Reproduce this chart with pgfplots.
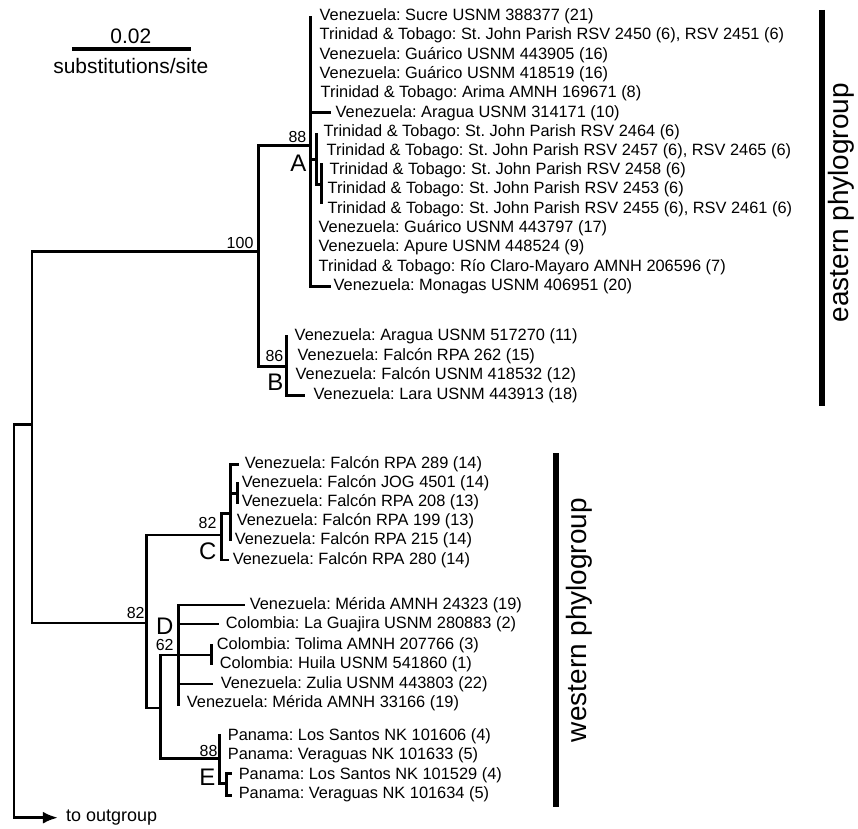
\documentclass[border=0pt]{standalone}
\usepackage{fontspec}
\setmainfont{Liberation Sans}
\usepackage{pgfplots}
\pgfplotsset{compat=1.18}
\usetikzlibrary{arrows.meta}
\frenchspacing
\newcommand\lffont{\fontsize{16.4}{19}\selectfont}
\newcommand\spfont{\fontsize{16}{19}\selectfont}
\newcommand\clfont{\fontsize{24}{28}\selectfont}
\newcommand\leaf[3]{\node[anchor=west,inner sep=0pt,font=\lffont] at (axis cs:#1,#2) {#3};}
\newcommand\supp[3]{\node[anchor=east,inner sep=0pt,font=\spfont] at (axis cs:#1,#2) {#3};}
\newcommand\clade[3]{\node[anchor=east,inner sep=0pt,font=\clfont] at (axis cs:#1,#2) {#3};}
\pgfplotsset{br/.style={black,line width=2.7pt,line join=miter,line cap=rect,mark=none}}
\begin{document}
\begin{tikzpicture}
\begin{axis}[width=858pt,height=830pt,scale only axis,
  xmin=0,xmax=858,ymin=0,ymax=830,y dir=reverse,hide axis,clip=false,
  cycle list={{black,mark=none}}]
\path (rel axis cs:0,0) rectangle (rel axis cs:1,1);
% scale bar
\addplot[br,line width=3.2pt,line cap=butt] coordinates {(72,49)(191,49)};
% root and outgroup
\addplot[br,line width=2.8pt,line cap=butt,-{Latex[length=15pt,width=12pt]}] coordinates {(14,425)(14,819)(58,819)};
\addplot[br] coordinates {(14,425)(32,425)};
\addplot[br] coordinates {(259,252)(32,252)(32,624)(147,624)};
% eastern
\addplot[br] coordinates {(311,146)(259,146)(259,367)(287,367)};
\addplot[br] coordinates {(311,17)(311,287)(330,287)};
\addplot[br] coordinates {(311,113)(330,113)};
\addplot[br] coordinates {(311,160)(317,160)};
\addplot[br] coordinates {(317,135)(317,185)(322,185)};
\addplot[br] coordinates {(322,165)(322,203)};
\addplot[br] coordinates {(287,337)(287,396)(304,396)};
% western
\addplot[br] coordinates {(222,536)(147,536)(147,709)(161,709)};
\addplot[br] coordinates {(228,561)(222,561)(222,514)(231,514)};
\addplot[br] coordinates {(238,465)(231,465)(231,541)};
\addplot[br] coordinates {(231,494)(238,494)};
\addplot[br] coordinates {(238,484)(238,503)};
\addplot[br] coordinates {(212,656)(161,656)(161,760)(220,760)};
\addplot[br] coordinates {(179,606)(179,706)};
\addplot[br] coordinates {(179,606)(244,606)};
\addplot[br] coordinates {(179,625)(218,625)};
\addplot[br] coordinates {(212,646)(212,665)};
\addplot[br] coordinates {(179,685)(212,685)};
\addplot[br] coordinates {(220,737)(220,785)(227,785)};
\addplot[br] coordinates {(231,775)(227,775)(227,797)(231,797)};
% phylogroup bars
\addplot[br,line width=6pt,line cap=butt] coordinates {(823,10)(823,407)};
\addplot[br,line width=6pt,line cap=butt] coordinates {(557,454)(557,808)};
% texts
\node[font=\fontsize{21}{24}\selectfont] at (axis cs:131,36) {0.02};
\node[font=\fontsize{21}{24}\selectfont] at (axis cs:131,66) {substitutions/site};
\node[anchor=west,inner sep=0pt,font=\fontsize{18}{20}\selectfont] at (axis cs:66,819) {to outgroup};
\node[rotate=90,font=\fontsize{28}{32}\selectfont] at (axis cs:843,203) {eastern phylogroup};
\node[rotate=90,font=\fontsize{28}{32}\selectfont] at (axis cs:580,621) {western phylogroup};
\supp{307}{137}{88}\clade{307}{164}{A}
\supp{254}{243}{100}
\supp{284}{357}{86}\clade{284}{383}{B}
\supp{217}{524}{82}\clade{217}{552}{C}
\supp{145}{614}{82}
\clade{174}{627}{D}\supp{174}{646}{62}
\supp{218}{752}{88}\clade{216}{778}{E}
% leaves A
\leaf{320}{16}{Venezuela: Sucre USNM 388377 (21)}
\leaf{320}{35}{Trinidad \& Tobago: St. John Parish RSV 2450 (6), RSV 2451 (6)}
\leaf{320}{55}{Venezuela: Guárico USNM 443905 (16)}
\leaf{320}{74}{Venezuela: Guárico USNM 418519 (16)}
\leaf{321}{93}{Trinidad \& Tobago: Arima AMNH 169671 (8)}
\leaf{336}{113}{Venezuela: Aragua USNM 314171 (10)}
\leaf{324}{132}{Trinidad \& Tobago: St. John Parish RSV 2464 (6)}
\leaf{327}{152}{Trinidad \& Tobago: St. John Parish RSV 2457 (6), RSV 2465 (6)}
\leaf{330}{171}{Trinidad \& Tobago: St. John Parish RSV 2458 (6)}
\leaf{328}{190}{Trinidad \& Tobago: St. John Parish RSV 2453 (6)}
\leaf{328}{210}{Trinidad \& Tobago: St. John Parish RSV 2455 (6), RSV 2461 (6)}
\leaf{319}{229}{Venezuela: Guárico USNM 443797 (17)}
\leaf{319}{248}{Venezuela: Apure USNM 448524 (9)}
\leaf{319}{268}{Trinidad \& Tobago: Río Claro-Mayaro AMNH 206596 (7)}
\leaf{334}{287}{Venezuela: Monagas USNM 406951 (20)}
% leaves B
\leaf{295}{337}{Venezuela: Aragua USNM 517270 (11)}
\leaf{298}{357}{Venezuela: Falcón RPA 262 (15)}
\leaf{296}{376}{Venezuela: Falcón USNM 418532 (12)}
\leaf{314}{396}{Venezuela: Lara USNM 443913 (18)}
% leaves C
\leaf{245}{465}{Venezuela: Falcón RPA 289 (14)}
\leaf{242}{484}{Venezuela: Falcón JOG 4501 (14)}
\leaf{242}{503}{Venezuela: Falcón RPA 208 (13)}
\leaf{237}{522}{Venezuela: Falcón RPA 199 (13)}
\leaf{235}{541}{Venezuela: Falcón RPA 215 (14)}
\leaf{233}{561}{Venezuela: Falcón RPA 280 (14)}
% leaves D
\leaf{250}{606}{Venezuela: Mérida AMNH 24323 (19)}
\leaf{226}{625}{Colombia: La Guajira USNM 280883 (2)}
\leaf{217}{646}{Colombia: Tolima AMNH 207766 (3)}
\leaf{220}{665}{Colombia: Huila USNM 541860 (1)}
\leaf{221}{685}{Venezuela: Zulia USNM 443803 (22)}
\leaf{187}{704}{Venezuela: Mérida AMNH 33166 (19)}
% leaves E
\leaf{228}{737}{Panama: Los Santos NK 101606 (4)}
\leaf{228}{756}{Panama: Veraguas NK 101633 (5)}
\leaf{239}{776}{Panama: Los Santos NK 101529 (4)}
\leaf{239}{796}{Panama: Veraguas NK 101634 (5)}
\end{axis}
\end{tikzpicture}
\end{document}
